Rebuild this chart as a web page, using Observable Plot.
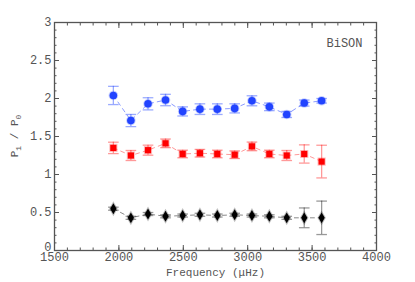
<!DOCTYPE html>
<html><head><meta charset="utf-8">
<script src="https://cdn.jsdelivr.net/npm/d3@7"></script>
<script src="https://cdn.jsdelivr.net/npm/@observablehq/plot@0.6"></script>
<style>body{margin:0;background:#fff;} svg{display:block;} #chart svg text{font-family:"Liberation Mono","DejaVu Sans Mono",monospace !important;}</style>
</head><body><div id="chart"></div>
<script>
const freqs = [1957, 2093, 2226, 2362, 2495, 2629, 2764, 2899, 3033, 3168, 3303, 3439, 3574];
const blueVals = [2.04, 1.71, 1.93, 1.98, 1.83, 1.86, 1.86, 1.87, 1.97, 1.89, 1.79, 1.94, 1.97];
const blueErr  = [0.12, 0.08, 0.08, 0.075, 0.06, 0.07, 0.07, 0.06, 0.066, 0.05, 0.04, 0.04, 0.03];
const redVals  = [1.35, 1.25, 1.32, 1.41, 1.27, 1.28, 1.27, 1.26, 1.37, 1.27, 1.25, 1.27, 1.17];
const redErr   = [0.075, 0.066, 0.066, 0.057, 0.05, 0.05, 0.05, 0.05, 0.057, 0.05, 0.066, 0.12, 0.215];
const blackVals= [0.55, 0.43, 0.48, 0.45, 0.46, 0.47, 0.46, 0.47, 0.46, 0.45, 0.43, 0.43, 0.43];
const blackErr = [0.02, 0.02, 0.02, 0.02, 0.02, 0.02, 0.02, 0.02, 0.02, 0.02, 0.02, 0.13, 0.22];
const xTicks = [1500, 2000, 2500, 3000, 3500, 4000];
const yTicks = [0, 0.5, 1, 1.5, 2, 2.5, 3];
const xMinor = d3.range(1500, 4001, 100);
const yMinor = d3.range(0, 3.001, 0.1);

const series = [
  {vals: blueVals, err: blueErr, color: "#2244ff", light: "#8c9cff", errc: "rgba(34,68,255,0.45)", symbol: "circle", r: 3.8},
  {vals: redVals, err: redErr, color: "#ff0000", light: "#ff9a9a", errc: "rgba(255,0,0,0.4)", symbol: "square", r: 3.5},
  {vals: blackVals, err: blackErr, color: "#000000", light: "#8a8a8a", errc: "rgba(0,0,0,0.4)", symbol: "diamond", r: 3.3}
];

const cap = {draw(ctx, size){ const w = Math.sqrt(size); ctx.moveTo(-w, 0); ctx.lineTo(w, 0); }};
const font = "Liberation Mono, DejaVu Sans Mono, monospace";
const axisColor = "#555";

const marks = [];
marks.push(Plot.frame({stroke: axisColor, strokeWidth: 1.3}));
for (const [anchor, ticks, size] of [["bottom", xTicks, -5], ["top", xTicks, -5], ["bottom", xMinor, -2.5], ["top", xMinor, -2.5]]) {
  marks.push(Plot.axisX({anchor, ticks, tickSize: size, tickFormat: () => "", label: null, stroke: axisColor}));
}
for (const [anchor, ticks, size] of [["left", yTicks, -5], ["right", yTicks, -5], ["left", yMinor, -2.5], ["right", yMinor, -2.5]]) {
  marks.push(Plot.axisY({anchor, ticks, tickSize: size, tickFormat: () => "", label: null, stroke: axisColor}));
}
marks.push(Plot.axisX({anchor: "bottom", ticks: xTicks, tickSize: 0, tickPadding: 2, tickFormat: d => String(d), label: null, fill: "#555", fontSize: 12}));
marks.push(Plot.axisY({anchor: "left", ticks: yTicks.filter(d => d !== 0), tickSize: 0, tickPadding: 3, tickFormat: d => String(d), label: null, fill: "#555", fontSize: 12}));
marks.push(Plot.axisY({anchor: "left", ticks: yTicks.filter(d => d === 0), tickSize: 0, tickPadding: 3, dy: -3, tickFormat: d => String(d), label: null, fill: "#555", fontSize: 12}));
marks.push(Plot.text(["Frequency (μHz)"], {frameAnchor: "bottom", dy: 25, text: d => d, fontSize: 11, fill: "#555"}));

for (const s of series) {
  const data = freqs.map((f, i) => ({f, v: s.vals[i], e: s.err[i]}));
  marks.push(Plot.line(data, {x: "f", y: "v", stroke: s.light, strokeWidth: 1, strokeDasharray: "4,4"}));
  marks.push(Plot.ruleX(data, {x: "f", y1: d => d.v - d.e, y2: d => d.v + d.e, stroke: s.errc, strokeWidth: 1.3}));
  marks.push(Plot.dot(data, {x: "f", y: d => d.v - d.e, symbol: cap, r: 3, stroke: s.errc, strokeWidth: 1.3}));
  marks.push(Plot.dot(data, {x: "f", y: d => d.v + d.e, symbol: cap, r: 3, stroke: s.errc, strokeWidth: 1.3}));
  marks.push(Plot.dot(data, {x: "f", y: "v", symbol: s.symbol, r: s.r, fill: s.color, stroke: s.color, strokeOpacity: 0.25, strokeWidth: 2}));
}
marks.push(Plot.text(["BiSON"], {frameAnchor: "top-right", dx: -14, dy: 16, text: d => d, textAnchor: "end", fontSize: 12, fill: "#555"}));

const chart = Plot.plot({
  width: 415, height: 282,
  marginLeft: 54, marginRight: 39, marginTop: 22, marginBottom: 32,
  style: {fontFamily: font, fontSize: "12px", background: "#fff"},
  x: {domain: [1500, 4000]},
  y: {domain: [0, 3]},
  marks
});
const svg = d3.select(chart);
const t = svg.append("text")
  .attr("transform", "translate(18,136) rotate(-90)")
  .attr("text-anchor", "middle")
  .attr("font-family", font)
  .attr("font-size", 11)
  .attr("fill", "#555");
t.append("tspan").text("P");
t.append("tspan").attr("font-size", 8).attr("dy", 3).text("1");
t.append("tspan").attr("dy", -3).text(" / P");
t.append("tspan").attr("font-size", 8).attr("dy", 3).text("0");
document.getElementById("chart").appendChild(chart);
</script>
</body></html>
